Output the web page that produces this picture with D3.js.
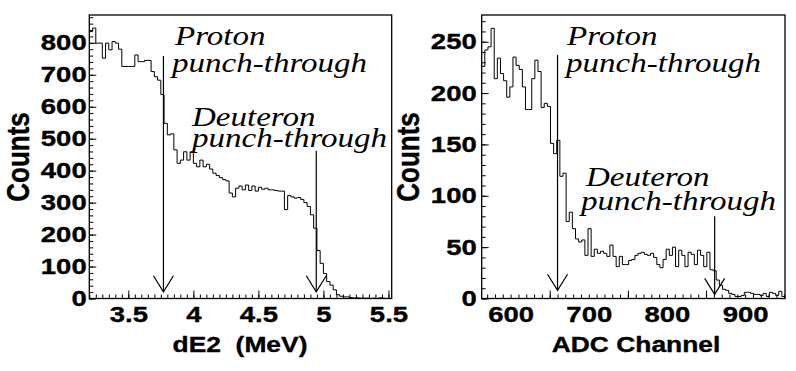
<!DOCTYPE html>
<html>
<head>
<meta charset="utf-8">
<script src="https://cdn.jsdelivr.net/npm/d3@7"></script>
<style>
body { margin: 0; background: white; }
svg { display: block; }
.axis text { font-family: "Liberation Sans", Arial, sans-serif; font-weight: bold; font-size: 22px; fill: black; stroke: black; stroke-width: 0.35; }
.axis line { stroke: black; stroke-width: 1; }
.axis .domain { display: none; }
.ann { font-family: "Liberation Serif", "Times New Roman", serif; font-style: italic; font-size: 28px; fill: black; }
.title { font-family: "Liberation Sans", Arial, sans-serif; font-weight: bold; fill: black; stroke: black; stroke-width: 0.35; white-space: pre; }
</style>
</head>
<body>
<svg id="chart" width="796" height="371"></svg>
<script>
// left pad: dE2 spectrum, bins of 0.025 MeV from 3.2
var de2_start = 3.2;
var de2_width = 0.025;
var de2_counts = [835, 846, 799, 799, 752, 799, 778, 804, 799, 780,
  726, 726, 726, 726, 762, 741, 741, 745, 745, 710,
  694, 683, 638, 548, 512, 515, 465, 423, 433, 459,
  433, 459, 423, 412, 433, 412, 420, 405, 392, 385,
  378, 372, 368, 330, 318, 345, 352, 340, 355, 338,
  352, 336, 348, 342, 345, 340, 340, 338, 336, 336,
  278, 322, 318, 314, 316, 310, 300, 288, 262, 220,
  150, 110, 78, 53, 42, 27, 12, 7, 5, 5,
  3, 2, 2, 1, 1, 1, 0, 1, 0, 2,
  1, 0, 0];
var de2_xticks = [3.5, 4, 4.5, 5, 5.5];
var de2_yticks = [0, 100, 200, 300, 400, 500, 600, 700, 800];
// arrows: [x, top count, tip count]
var de2_arrows = [[3.77, 759, 21], [4.945, 462, 21]];

// right pad: ADC spectrum, bins of 4 channels from 563
var adc_start = 563;
var adc_width = 4;
var adc_counts = [226, 242, 245, 263, 214, 234, 219, 212, 196, 206,
  235, 227, 223, 206, 184, 184, 214, 232, 221, 186,
  190, 187, 151, 141, 154, 119, 122, 75, 84, 68,
  58, 55, 57, 42, 68, 41, 48, 44, 46, 44,
  41, 52, 41, 31, 41, 33, 33, 37, 38, 42,
  44, 45, 43, 42, 44, 40, 33, 30, 38, 48,
  42, 50, 31, 47, 42, 31, 45, 43, 33, 47,
  42, 31, 45, 28, 27, 18, 13, 9, 8, 5,
  4, 2, 2, 3, 6, 6, 5, 4, 4, 3,
  5, 2, 6, 5, 3, 7, 2];
var adc_xlabels = [600, 700, 800, 900];
var adc_xmajor = [650, 750, 850];
var adc_yticks = [0, 50, 100, 150, 200, 250];
var adc_arrows = [[660, 237, 8], [861, 80, 4]];

var stretch = 1.25;     // labels look wider than the font, so stretch them
var ann_stretch = 1.18;
var svg = d3.select("#chart");

function stext(g, x, y, str, cls, opts) {
  opts = opts || {};
  var s = opts.stretch || stretch;
  var t = g.append("text")
    .attr("class", cls)
    .attr("transform", "translate(" + x + "," + y + ") scale(" + s + ",1)" + (opts.rotate ? " rotate(-90)" : ""))
    .attr("text-anchor", opts.anchor || "start")
    .attr("xml:space", "preserve")
    .text(str);
  if (opts.size) t.style("font-size", opts.size + "px");
  return t;
}

function draw_pad(p) {
  var x = d3.scaleLinear().domain(p.xdomain).range(p.xrange);
  var y = d3.scaleLinear().domain(p.ydomain).range([298.5, 15]);
  var g = svg.append("g");
  var ybase = y(0);

  // histogram outline
  var pts = p.counts.map(function(c, i) { return [p.start + i * p.width, c]; });
  pts.push([p.start + p.counts.length * p.width, p.counts[p.counts.length - 1]]);
  var line = d3.line().x(function(d) { return x(d[0]); }).y(function(d) { return y(d[1]); })
    .curve(d3.curveStepAfter);
  g.append("clipPath").attr("id", "clip" + p.id).append("rect")
    .attr("x", x.range()[0]).attr("y", 15)
    .attr("width", x.range()[1] - x.range()[0]).attr("height", ybase - 15);
  g.append("path").datum(pts).attr("d", line)
    .attr("clip-path", "url(#clip" + p.id + ")")
    .attr("fill", "none").attr("stroke", "black").attr("stroke-width", 1);

  // x axis
  var xa = g.append("g").attr("class", "axis").attr("transform", "translate(0," + ybase + ")");
  xa.append("g").call(d3.axisBottom(x).tickValues(p.xminor).tickSize(-4).tickSizeOuter(0).tickFormat(""));
  xa.append("g").call(d3.axisBottom(x).tickValues(p.xmajor).tickSize(-8).tickSizeOuter(0).tickFormat(""));
  var xl = xa.append("g").call(d3.axisBottom(x).tickValues(p.xlabels).tickSize(0).tickSizeOuter(0).tickFormat(p.xfmt));
  xl.selectAll("text").attr("y", 23.5).attr("dy", null).attr("transform", "scale(" + stretch + ",1)")
    .attr("x", 0);

  // y axis
  var ya = g.append("g").attr("class", "axis").attr("transform", "translate(" + x.range()[0] + ",0)");
  ya.append("g").call(d3.axisLeft(y).tickValues(p.yminor).tickSize(-4).tickSizeOuter(0).tickFormat(""));
  var yl = ya.append("g").call(d3.axisLeft(y).tickValues(p.yticks).tickSize(-7).tickSizeOuter(0));
  yl.selectAll("text").attr("x", p.ylabx).attr("transform", "scale(" + stretch + ",1)");

  // frame
  g.append("rect").attr("x", x.range()[0]).attr("y", 15)
    .attr("width", x.range()[1] - x.range()[0]).attr("height", ybase - 15)
    .attr("fill", "none").attr("stroke", "black").attr("stroke-width", 1.3);

  // arrows
  p.arrows.forEach(function(a) {
    var ax = x(a[0]), top = y(a[1]), tip = y(a[2]);
    g.append("line").attr("x1", ax).attr("x2", ax).attr("y1", top).attr("y2", tip)
      .attr("stroke", "black").attr("stroke-width", 1.2);
    g.append("path").attr("d", "M" + (ax - 10) + "," + (tip - 16) + "L" + ax + "," + tip + "L" + (ax + 10) + "," + (tip - 16))
      .attr("fill", "none").attr("stroke", "black").attr("stroke-width", 1.2);
  });

  // annotations
  p.notes.forEach(function(n) { stext(g, n[0], n[1], n[2], "ann", {stretch: ann_stretch}); });

  // titles
  stext(g, p.xtitle[0], 351.5, p.xtitle[1], "title", {anchor: "middle", size: 22, stretch: 1.2});
  stext(g, p.ytitlex, 157, "Counts", "title", {anchor: "middle", size: 26, rotate: true, stretch: 1.2});
}

function range_step(a, b, s) {
  return d3.range(Math.round((b - a) / s) + 1).map(function(i) { return +(a + i * s).toFixed(4); });
}

draw_pad({
  id: "L", counts: de2_counts, start: de2_start, width: de2_width,
  xdomain: [3.2, 5.525], xrange: [89.3, 391.7], ydomain: [0, 887],
  xmajor: de2_xticks, xlabels: de2_xticks, xminor: range_step(3.2, 5.5, 0.05),
  xfmt: function(d) { return String(d); },
  yticks: de2_yticks, yminor: range_step(0, 880, 20), ylabx: -2.1,
  arrows: de2_arrows,
  notes: [[175, 45, "Proton"], [172, 71.5, "punch-through"], [192, 126, "Deuteron"], [192, 147, "punch-through"]],
  xtitle: [240, "dE2  (MeV)"], ytitlex: 28.5
});

draw_pad({
  id: "R", counts: adc_counts, start: adc_start, width: adc_width,
  xdomain: [563, 951], xrange: [481.7, 785], ydomain: [0, 276],
  xmajor: adc_xmajor, xlabels: adc_xlabels, xminor: range_step(570, 950, 10),
  xfmt: function(d) { return String(d); },
  yticks: adc_yticks, yminor: range_step(0, 270, 10), ylabx: -4,
  arrows: adc_arrows,
  notes: [[567, 45, "Proton"], [566, 71.5, "punch-through"], [586, 185.5, "Deuteron"], [581, 210, "punch-through"]],
  xtitle: [636, "ADC Channel"], ytitlex: 419
});
</script>
</body>
</html>
